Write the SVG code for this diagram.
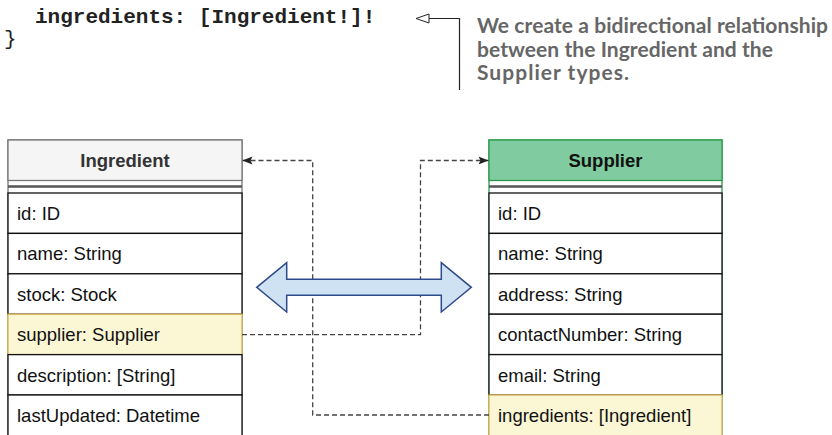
<svg xmlns="http://www.w3.org/2000/svg" width="832" height="435" viewBox="0 0 832 435">
<style>
.code{font-family:"Liberation Mono","Courier New",monospace;font-size:21px;fill:#222}
.note{font-family:Lato,"Open Sans",sans-serif;font-weight:bold;font-size:21px;fill:#666}
.hdr{font-family:"Liberation Sans",Arial,sans-serif;font-weight:bold;font-size:18.5px;text-anchor:middle}
.fld{font-family:"Liberation Sans",Arial,sans-serif;font-size:18.5px;fill:#111}
.row{fill:#fff;stroke:#111;stroke-width:1.3}
.hl{fill:#fbf6d4;stroke:#d6b656;stroke-width:1.3}
.dash{fill:none;stroke:#444;stroke-width:1.3;stroke-dasharray:5 3}
</style>
<defs>
<marker id="blk" viewBox="0 0 10 10" refX="10" refY="5" markerWidth="10" markerHeight="10" markerUnits="userSpaceOnUse" orient="auto">
<path d="M0,1 L10,5 L0,9 L2,5 Z" fill="#222"/>
</marker>
</defs>

<g id="code">
<text class="code" x="35" y="23" font-weight="bold">ingredients: [Ingredient!]!</text>
<text class="code" x="4" y="45" fill="#555">}</text>
</g>

<g id="callout">
<polyline points="459.5,90 459.5,18.5 428,18.5" fill="none" stroke="#222" stroke-width="1.2"/>
<path d="M416,18.5 L429,14 L429,23 Z" fill="#fff" stroke="#222" stroke-width="1"/>
<text class="note" x="477" y="33" textLength="351" lengthAdjust="spacing">We create a bidirectional relationship</text>
<text class="note" x="477" y="56.5" textLength="296" lengthAdjust="spacing">between the Ingredient and the</text>
<text class="note" x="477" y="80" textLength="152" lengthAdjust="spacing">Supplier types.</text>
</g>

<g id="ingredient">
<rect x="8" y="140" width="234" height="300" fill="#fff" stroke="#777" stroke-width="1.3"/>
<rect x="8" y="140" width="234" height="40.5" fill="#f5f5f5" stroke="#777" stroke-width="1.3"/>
<text class="hdr" x="125" y="167" fill="#333">Ingredient</text>
<line x1="8" y1="186.5" x2="242" y2="186.5" stroke="#555" stroke-width="2.5"/>
<rect class="row" x="8" y="193" width="234" height="40.4"/>
<text class="fld" x="17" y="220">id: ID</text>
<rect class="row" x="8" y="233.4" width="234" height="40.4"/>
<text class="fld" x="17" y="260.4">name: String</text>
<rect class="row" x="8" y="273.8" width="234" height="40.4"/>
<text class="fld" x="17" y="300.8">stock: Stock</text>
<rect class="hl" x="8" y="314.2" width="234" height="40.4"/>
<text class="fld" x="17" y="341.2">supplier: Supplier</text>
<rect class="row" x="8" y="354.6" width="234" height="40.4"/>
<text class="fld" x="17" y="381.6">description: [String]</text>
<rect class="row" x="8" y="395" width="234" height="45"/>
<text class="fld" x="17" y="422">lastUpdated: Datetime</text>
</g>

<g id="supplier">
<rect x="489" y="140" width="233" height="300" fill="#fff" stroke="#2a9a4a" stroke-width="1.3"/>
<rect x="489" y="140" width="233" height="40.5" fill="#80cb9f" stroke="#2a9a4a" stroke-width="1.3"/>
<text class="hdr" x="605.5" y="167" fill="#111">Supplier</text>
<line x1="489" y1="186.5" x2="722" y2="186.5" stroke="#555" stroke-width="2.5"/>
<rect class="row" x="489" y="193" width="233" height="40.4"/>
<text class="fld" x="498" y="220">id: ID</text>
<rect class="row" x="489" y="233.4" width="233" height="40.4"/>
<text class="fld" x="498" y="260.4">name: String</text>
<rect class="row" x="489" y="273.8" width="233" height="40.4"/>
<text class="fld" x="498" y="300.8">address: String</text>
<rect class="row" x="489" y="314.2" width="233" height="40.4"/>
<text class="fld" x="498" y="341.2">contactNumber: String</text>
<rect class="row" x="489" y="354.6" width="233" height="40.4"/>
<text class="fld" x="498" y="381.6">email: String</text>
<rect class="hl" x="489" y="395" width="233" height="45"/>
<text class="fld" x="498" y="422">ingredients: [Ingredient]</text>
</g>

<g id="connectors">
<polyline class="dash" points="242,334.7 420.5,334.7 420.5,160.5 488.5,160.5" marker-end="url(#blk)"/>
<polyline class="dash" points="489,415 312.7,415 312.7,160.5 242.5,160.5" marker-end="url(#blk)"/>
</g>

<g id="double-arrow">
<polygon points="256.7,287.3 286.7,262.7 286.7,279.3 441.3,279.3 441.3,262.7 471.3,287.3 441.3,312 441.3,295.3 286.7,295.3 286.7,312" fill="#cfe2f3" stroke="#2d4a8a" stroke-width="1.5"/>
</g>
</svg>
